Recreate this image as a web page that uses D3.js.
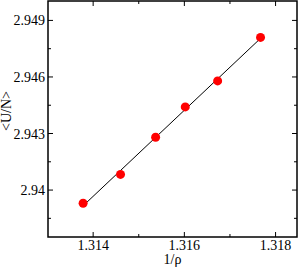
<!DOCTYPE html>
<html><head><meta charset="utf-8">
<script src="https://cdn.jsdelivr.net/npm/d3@7"></script>
<style>body{margin:0;background:#fff}svg{display:block}text{font-family:"Liberation Serif","Times New Roman",serif}</style>
</head><body><svg id="c" width="299" height="267"></svg>
<script>
const xVals = [1.31378, 1.31460, 1.31537, 1.31602, 1.31673, 1.31767];
const yVals = [2.93930, 2.94083, 2.94280, 2.94441, 2.94579, 2.94810];
const xTicks = [1.314, 1.316, 1.318];
const xTickLabels = ["1.314", "1.316", "1.318"];
const xMinor = [1.315, 1.317];
const yTicks = [2.94, 2.943, 2.946, 2.949];
const yTickLabels = ["2.94", "2.943", "2.946", "2.949"];
const yMinor = [2.9385, 2.9415, 2.9445, 2.9475];
const xLabel = "1/ρ", yLabel = "<U/N>";

const L = 48, R = 297, T = 1, B = 237;
const svg = d3.select("#c");
const x = d3.scaleLinear().domain([1.31301, 1.31847]).range([L, R]);
const y = d3.scaleLinear().domain([2.93751, 2.95003]).range([B, T]);

// fit line
const n = xVals.length, mx = d3.mean(xVals), my = d3.mean(yVals);
let sxy = 0, sxx = 0;
for (let i = 0; i < n; i++) { sxy += (xVals[i]-mx)*(yVals[i]-my); sxx += (xVals[i]-mx)**2; }
const slope = sxy/sxx, icpt = my - slope*mx;
const x0 = d3.min(xVals), x1 = d3.max(xVals);
svg.append("line").attr("x1", x(x0)).attr("y1", y(slope*x0+icpt)).attr("x2", x(x1)).attr("y2", y(slope*x1+icpt))
  .attr("stroke", "#000").attr("stroke-width", 1);

svg.append("g").selectAll("circle").data(xVals).join("circle")
  .attr("cx", d => x(d)).attr("cy", (d,i) => y(yVals[i])).attr("r", 4.5).attr("fill", "#ff0000");

const tk = svg.append("g").attr("stroke", "#000").attr("stroke-width", 1);
xTicks.forEach(v => { tk.append("line").attr("x1", x(v)).attr("x2", x(v)).attr("y1", B).attr("y2", B-5);
  tk.append("line").attr("x1", x(v)).attr("x2", x(v)).attr("y1", T).attr("y2", T+5); });
xMinor.forEach(v => { tk.append("line").attr("x1", x(v)).attr("x2", x(v)).attr("y1", B).attr("y2", B-3);
  tk.append("line").attr("x1", x(v)).attr("x2", x(v)).attr("y1", T).attr("y2", T+3); });
yTicks.forEach(v => { tk.append("line").attr("y1", y(v)).attr("y2", y(v)).attr("x1", L).attr("x2", L+5);
  tk.append("line").attr("y1", y(v)).attr("y2", y(v)).attr("x1", R).attr("x2", R-5); });
yMinor.forEach(v => { tk.append("line").attr("y1", y(v)).attr("y2", y(v)).attr("x1", L).attr("x2", L+3);
  tk.append("line").attr("y1", y(v)).attr("y2", y(v)).attr("x1", R).attr("x2", R-3); });

svg.append("rect").attr("x", L).attr("y", T).attr("width", R-L).attr("height", B-T)
  .attr("fill", "none").attr("stroke", "#000").attr("stroke-width", 1.5);

svg.append("g").selectAll("text").data(xTicks).join("text")
  .attr("x", d => x(d)).attr("y", 250).attr("text-anchor", "middle").attr("font-size", 14).text((d,i) => xTickLabels[i]);
svg.append("g").selectAll("text").data(yTicks).join("text")
  .attr("x", 45).attr("y", d => y(d)+5).attr("text-anchor", "end").attr("font-size", 14).text((d,i) => yTickLabels[i]);

svg.append("text").attr("x", (L+R)/2).attr("y", 264).attr("text-anchor", "middle").attr("font-size", 14).text(xLabel);
svg.append("text").attr("transform", "translate(11,111) rotate(-90)").attr("text-anchor", "middle").attr("font-size", 14).text(yLabel);
</script></body></html>
